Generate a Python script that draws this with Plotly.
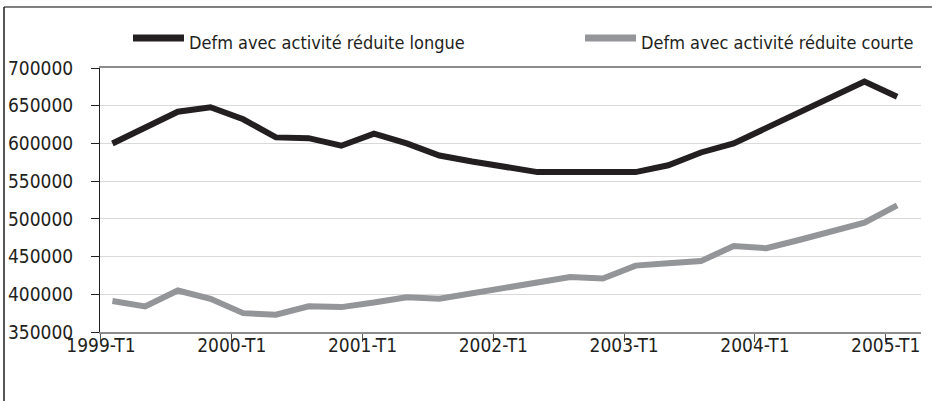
import plotly.graph_objects as go

# Quarterly series, 1999-T1 .. 2005-T1
quarters = [f"{y}-T{q}" for y in range(1999, 2006) for q in range(1, 5)][:25]

longue = [600000, 622000, 642000, 648000, 632000, 608000, 607000, 597000,
          613000, 600000, 584000, 576000, 569000, 562000, 562000, 562000,
          562000, 571000, 588000, 600000, 621000, 642000, 662000, 682000,
          662000]
courte = [391000, 384000, 405000, 394000, 375000, 373000, 384000, 383000,
          389000, 396000, 394000, 401000, 408000, 415000, 423000, 421000,
          438000, 441000, 444000, 464000, 461000, 472000, 484000, 495000,
          518000]

series_names = ["Defm avec activité réduite longue",
                "Defm avec activité réduite courte"]
series_values = [longue, courte]
series_colors = ["#231f20", "#939598"]

y_ticks = [350000, 400000, 450000, 500000, 550000, 600000, 650000, 700000]

FONT = "DejaVu Sans Condensed, Liberation Sans Narrow, sans-serif"
TEXT = "#231f20"

x_idx = list(range(len(quarters)))
year_ticks = [i - 0.35 for i, q in enumerate(quarters) if q.endswith("T1")]
year_labels = [q for q in quarters if q.endswith("T1")]

fig = go.Figure()
for name, vals, col in zip(series_names, series_values, series_colors):
    fig.add_trace(go.Scatter(x=x_idx, y=vals, name=name, mode="lines",
                             line=dict(color=col, width=6),
                             showlegend=False))

W, H = 932, 401
ml, mr, mt, mb = 100, 11, 68, 69
pw, ph = W - ml - mr, H - mt - mb


def px_x(p):
    return (p - ml) / pw


def px_y(p):
    return (H - mb - p) / ph


# legend: thick colour sample followed by its label
legend_items = [(133, 184, 38), (585, 636, 38)]
shapes = []
annotations = []
for (x0, x1, yc), name, col in zip(legend_items, series_names, series_colors):
    shapes.append(dict(type="line", xref="paper", yref="paper",
                       x0=px_x(x0), x1=px_x(x1), y0=px_y(yc), y1=px_y(yc),
                       line=dict(color=col, width=7)))
    annotations.append(dict(xref="paper", yref="paper", x=px_x(x1 + 3),
                            y=px_y(yc + 5), xanchor="left", yanchor="middle",
                            text=name, showarrow=False,
                            font=dict(family=FONT, size=18, color=TEXT)))

# outer frame (top and left edges)
shapes.append(dict(type="line", xref="paper", yref="paper",
                   x0=px_x(4), x1=px_x(W + 10), y0=px_y(7), y1=px_y(7),
                   line=dict(color="#808080", width=2)))
shapes.append(dict(type="line", xref="paper", yref="paper",
                   x0=px_x(4), x1=px_x(4), y0=px_y(7), y1=px_y(H + 10),
                   line=dict(color="#231f20", width=1.5)))

fig.update_layout(
    width=W, height=H,
    margin=dict(l=ml, r=mr, t=mt, b=mb, autoexpand=False),
    paper_bgcolor="white", plot_bgcolor="white",
    font=dict(family=FONT, size=19, color=TEXT),
    shapes=shapes, annotations=annotations,
    xaxis=dict(range=[-0.38, 24.73], tickmode="array",
               tickvals=year_ticks, ticktext=year_labels,
               showgrid=False, zeroline=False, automargin=False,
               showline=True, mirror=True, linecolor="#8c8c8c", linewidth=2,
               ticks="outside", ticklen=8, tickcolor="#555555", tickwidth=1,
               ticklabelstandoff=-13,
               tickfont=dict(family=FONT, size=19, color=TEXT)),
    yaxis=dict(range=[350000, 700000], tickmode="array", tickvals=y_ticks,
               tickformat="d", showgrid=True, gridcolor="#d9d9d9",
               gridwidth=1, zeroline=False, automargin=False,
               showline=True, linecolor="#231f20", linewidth=1,
               ticks="outside", ticklen=8, tickcolor="#231f20",
               ticklabelstandoff=14,
               tickfont=dict(family=FONT, size=19, color=TEXT)),
)

fig.write_html("out.html")
